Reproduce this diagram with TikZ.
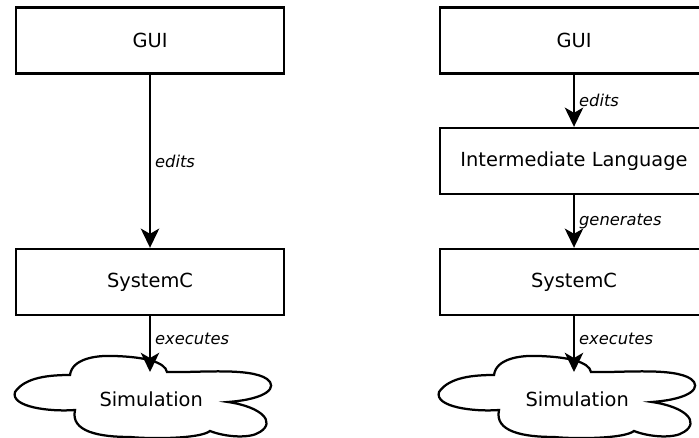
\documentclass[tikz,border=0pt]{standalone}
\usepackage{fontspec}
\setmainfont{DejaVu Sans}
\usepackage{tikz}
\usetikzlibrary{arrows.meta}

\tikzset{
	block/.style={draw, line width=1.7pt, minimum width=6.7cm, minimum height=1.65cm, font=\fontsize{13.8pt}{16pt}\selectfont},
	cloudtext/.style={font=\fontsize{13.8pt}{16pt}\selectfont},
	flow/.style={-{Stealth[length=0.48cm, width=0.46cm, inset=0.13cm]}, line width=1.6pt},
	flowlabel/.style={midway, right, inner sep=0.1cm, font=\fontsize{11.6pt}{14pt}\selectfont\itshape},
	simcloud/.pic={
		\draw[line width=1.6pt, fill=white, x=0.025cm, y=-0.025cm]
			(-135,-5) .. controls (-125,-20) and (-100,-22) .. (-80,-22)
			.. controls (-78,-38) and (-55,-42) .. (-35,-41)
			.. controls (-5,-40) and (15,-35) .. (17,-25)
			.. controls (45,-24) and (100,-30) .. (117,-18)
			.. controls (128,-10) and (118,2) .. (78,5)
			.. controls (112,10) and (126,25) .. (110,35)
			.. controls (100,42) and (75,40) .. (60,34)
			.. controls (50,42) and (0,42) .. (-20,40)
			.. controls (-50,40) and (-80,35) .. (-75,13)
			.. controls (-100,15) and (-140,10) .. (-135,-5) -- cycle;
	}
}

\begin{document}
\begin{tikzpicture}
	\useasboundingbox (0,0) rectangle (17.475,10.95);
	% left: GUI straight to SystemC
	\node[block] (gui1) at (3.75, 9.94) {GUI};
	\node[block] (sysc1) at (3.75, 3.9) {SystemC};
	\pic at (3.75, 1.025) {simcloud};
	\node[cloudtext] (sim1) at (3.78, 0.96) {Simulation};
	\coordinate (simtop1) at (3.75, 1.65);
	\draw[flow] (gui1.south) -- (sysc1.north) node[flowlabel]{edits};
	\draw[flow] (sysc1.south) -- (simtop1) node[flowlabel, pos=0.4]{executes};

	% right: GUI via Intermediate Language to SystemC
	\node[block] (gui2) at (14.35, 9.94) {GUI};
	\node[block] (inter2) at (14.35, 6.925) {Intermediate Language};
	\node[block] (sysc2) at (14.35, 3.9) {SystemC};
	\pic at (14.35, 1.025) {simcloud};
	\node[cloudtext] (sim2) at (14.43, 0.96) {Simulation};
	\coordinate (simtop2) at (14.35, 1.65);
	\draw[flow] (gui2.south) -- (inter2.north) node[flowlabel]{edits};
	\draw[flow] (inter2.south) -- (sysc2.north) node[flowlabel]{generates};
	\draw[flow] (sysc2.south) -- (simtop2) node[flowlabel, pos=0.4]{executes};
\end{tikzpicture}
\end{document}
